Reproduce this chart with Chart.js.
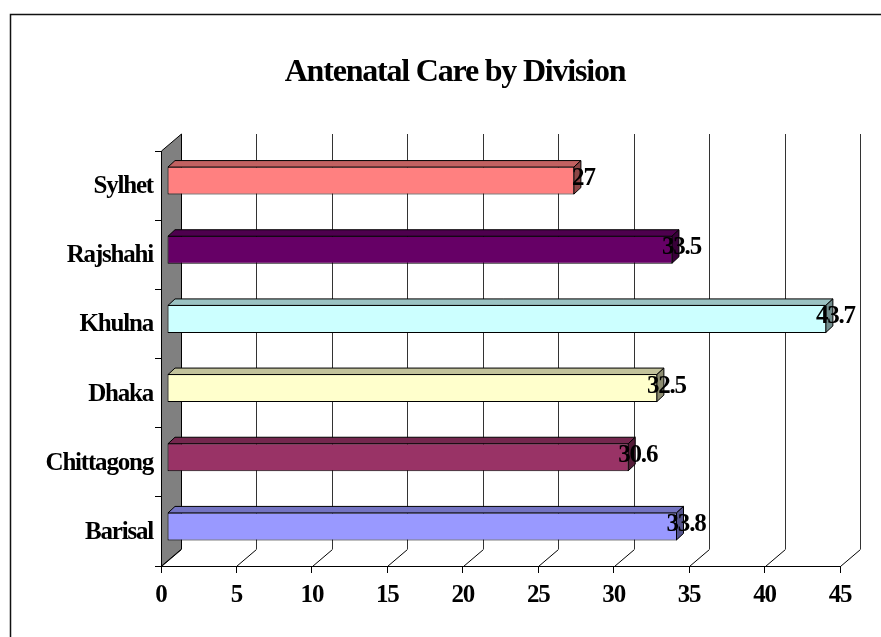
<!DOCTYPE html>
<html>
<head>
<meta charset="utf-8">
<title>Antenatal Care by Division</title>
<script src="https://cdn.jsdelivr.net/npm/chart.js@4/dist/chart.umd.min.js"></script>
<style>
  html, body { margin: 0; padding: 0; background: #fff; }
  #wrap { width: 881px; height: 637px; position: relative; }
</style>
</head>
<body>
<div id="wrap"><canvas id="chart" width="881" height="637"></canvas></div>
<script>
// Divisions, bottom to top
const divisions = ['Barisal', 'Chittagong', 'Dhaka', 'Khulna', 'Rajshahi', 'Sylhet'];
// Antenatal care coverage (%)
const coverage = [33.8, 30.6, 32.5, 43.7, 33.5, 27];
// Bar fill per division
const barColors = ['#9999FF', '#993366', '#FFFFCC', '#CCFFFF', '#660066', '#FF8080'];
// Value axis
const axisMin = 0;
const axisMax = 45;
const axisStep = 5;

const FONT = "'Liberation Serif', 'Times New Roman', serif";
const WALL = { dx: 20, dy: -17 };     // depth of the back wall / floor
const BAR_FRONT = { dx: 6, dy: -5 };  // bar front face sits a little into the depth
const BAR_DEPTH = { dx: 7, dy: -6.5 };// bar thickness in depth
const TITLE_LEFT = 70;                // title is centred between here and the plot's right edge

function shade(hex, f) {
  const n = parseInt(hex.slice(1), 16);
  const r = Math.round(((n >> 16) & 255) * f);
  const g = Math.round(((n >> 8) & 255) * f);
  const b = Math.round((n & 255) * f);
  return `rgb(${r},${g},${b})`;
}

// Frame, side wall, floor and back grid lines; 3D faces and value labels on the bars
const backdrop = {
  id: 'backdrop',
  afterLayout(chart) {
    if (chart.titleBlock) chart.titleBlock.left = TITLE_LEFT;
  },
  beforeDraw(chart) {
    const { ctx, chartArea: a } = chart;
    const xs = chart.scales.x;
    ctx.save();
    ctx.fillStyle = '#fff';
    ctx.fillRect(0, 0, chart.width, chart.height);

    // outer frame
    ctx.strokeStyle = '#111';
    ctx.lineWidth = 1.5;
    ctx.strokeRect(10.5, 14.5, 1000, 1000);

    // side wall
    ctx.beginPath();
    ctx.moveTo(a.left + 0.5, a.top);
    ctx.lineTo(a.left + 0.5 + WALL.dx, a.top + WALL.dy);
    ctx.lineTo(a.left + 0.5 + WALL.dx, a.bottom + WALL.dy);
    ctx.lineTo(a.left + 0.5, a.bottom);
    ctx.closePath();
    ctx.fillStyle = '#808080';
    ctx.fill();
    ctx.lineWidth = 1;
    ctx.strokeStyle = '#000';
    ctx.stroke();

    // back grid lines and floor lines
    for (let v = axisMin; v <= axisMax; v += axisStep) {
      const px = Math.round(xs.getPixelForValue(v)) + 0.5;
      if (v > axisMin) {
        ctx.beginPath();
        ctx.moveTo(px + WALL.dx, a.top + WALL.dy);
        ctx.lineTo(px + WALL.dx, a.bottom + WALL.dy);
        ctx.strokeStyle = '#333';
        ctx.stroke();
      }
      ctx.beginPath();
      ctx.moveTo(px, a.bottom + 0.5);
      ctx.lineTo(px + WALL.dx, a.bottom + 0.5 + WALL.dy);
      ctx.strokeStyle = '#000';
      ctx.stroke();
    }
    ctx.restore();
    // tight Times-style lettering for all text
    ctx.letterSpacing = '-1.2px';
  },
  beforeDatasetsDraw(chart) {
    chart.ctx.save();
    chart.ctx.translate(BAR_FRONT.dx, BAR_FRONT.dy);
  },
  afterDatasetsDraw(chart) {
    const ctx = chart.ctx;
    const meta = chart.getDatasetMeta(0);
    // top and end faces of each bar (still in the shifted frame)
    meta.data.forEach((el, i) => {
      const p = el.getProps(['x', 'y', 'base', 'height'], true);
      const left = Math.min(p.base, p.x) + 0.5;
      const right = Math.max(p.base, p.x) - 0.5;
      const top = p.y - p.height / 2 + 0.5;
      const bottom = p.y + p.height / 2 - 0.5;
      const c = barColors[i];
      ctx.lineWidth = 1;
      ctx.strokeStyle = '#000';
      ctx.beginPath();
      ctx.moveTo(left, top);
      ctx.lineTo(left + BAR_DEPTH.dx, top + BAR_DEPTH.dy);
      ctx.lineTo(right + BAR_DEPTH.dx, top + BAR_DEPTH.dy);
      ctx.lineTo(right, top);
      ctx.closePath();
      ctx.fillStyle = shade(c, 0.76);
      ctx.fill();
      ctx.stroke();
      ctx.beginPath();
      ctx.moveTo(right, top);
      ctx.lineTo(right + BAR_DEPTH.dx, top + BAR_DEPTH.dy);
      ctx.lineTo(right + BAR_DEPTH.dx, bottom + BAR_DEPTH.dy);
      ctx.lineTo(right, bottom);
      ctx.closePath();
      ctx.fillStyle = shade(c, 0.55);
      ctx.fill();
      ctx.stroke();
    });
    ctx.restore();

    // value labels
    ctx.save();
    ctx.font = `bold 25px ${FONT}`;
    ctx.letterSpacing = '-1.2px';
    ctx.fillStyle = '#000';
    ctx.textAlign = 'center';
    ctx.textBaseline = 'alphabetic';
    meta.data.forEach((el, i) => {
      const p = el.getProps(['x', 'y'], true);
      ctx.fillText(String(coverage[i]), p.x + 15, p.y - 0.5);
    });
    ctx.restore();
  }
};

const chart = new Chart(document.getElementById('chart'), {
  type: 'bar',
  data: {
    labels: divisions,
    datasets: [{
      data: coverage,
      backgroundColor: barColors,
      borderColor: '#000',
      borderWidth: 1,
      borderSkipped: false,
      categoryPercentage: 1,
      barPercentage: 0.405,
      clip: false
    }]
  },
  options: {
    indexAxis: 'y',
    responsive: false,
    animation: false,
    events: [],
    layout: { padding: { top: 14, left: 10, right: 41, bottom: 0 } },
    plugins: {
      legend: { display: false },
      tooltip: { enabled: false },
      title: {
        display: true,
        text: 'Antenatal Care by Division',
        color: '#000',
        font: { family: FONT, size: 32, weight: 'bold', lineHeight: 1.2 },
        padding: { top: 40, bottom: 58.6 }
      }
    },
    scales: {
      x: {
        type: 'linear',
        position: 'bottom',
        min: axisMin,
        max: axisMax,
        afterFit(s) { s.height = 71; },
        ticks: {
          stepSize: axisStep,
          color: '#000',
          padding: 8,
          maxRotation: 0,
          font: { family: FONT, size: 25, weight: 'bold' }
        },
        grid: { drawOnChartArea: false, drawTicks: true, tickLength: 7, tickColor: '#000' },
        border: { display: true, color: '#000', width: 1 }
      },
      y: {
        type: 'category',
        reverse: true,
        afterFit(s) { s.width = 151; },
        ticks: {
          color: '#000',
          padding: 2,
          labelOffset: 1,
          font: { family: FONT, size: 25, weight: 'bold' }
        },
        grid: { drawOnChartArea: false, drawTicks: true, tickLength: 6, tickColor: '#000', offset: true },
        border: { display: true, color: '#000', width: 1 }
      }
    }
  },
  plugins: [backdrop]
});
</script>
</body>
</html>
